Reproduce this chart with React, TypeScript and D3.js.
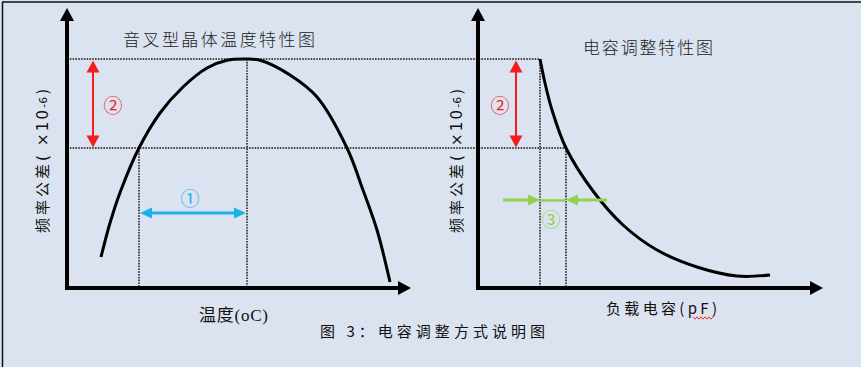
import React, { useRef, useEffect } from 'react';
import * as d3 from 'd3';

// left chart: tuning-fork crystal, frequency deviation (ppm) vs temperature (°C)
const tempC = [-48, -43.5, -38, -29, -18.5, -7, 5, 15, 25, 32, 46.5, 60, 75, 83, 90, 96.5];
const tempPpm = [-198, -164, -131, -89, -54, -28, -9, -1.2, 0, -1.5, -16, -38, -89, -131, -171, -223];

// right chart: frequency deviation (ppm) vs load capacitance (pF)
const loadPf = [6.2, 6.7, 7.4, 8.8, 11.5, 14.5, 17.9, 21.9, 25.9, 29.2];
const loadPpm = [0, -24, -51, -89, -132, -166, -191, -208, -217, -216];

const tolBand = [0, -89]; // ② allowed deviation
const tempRange = [-29, 25]; // ① temperature window
const pfRange = [6.2, 8.8]; // ③ capacitance window
const blueLevel = -154;
const greenLevel = -141;
const greenReach = [2.5, 12.9];
const redTemp = -52;
const redPf = 3.8;

const titles = ['音叉型晶体温度特性图', '电容调整特性图'];
const xLabels = ['温度(oC)', '负载电容(pF)'];
const yLabelCjk = '频率公差';
const yLabelMain = '( ×10';
const yLabelExp = '-6';
const caption = '图  3：电容调整方式说明图';
const marks = ['①', '②', '③'];

const RED = '#f21d1d';
const BLUE = '#1cb0ec';
const GREEN = '#92d050';
const CJK = '"Noto Sans CJK SC", "Noto Sans", sans-serif';

function arrow(g: any, x1: number, y1: number, x2: number, y2: number, color: string, w: number, len: number, half: number, both: boolean) {
  const dx = x2 - x1, dy = y2 - y1;
  const d = Math.hypot(dx, dy);
  const ux = dx / d, uy = dy / d;
  const px = -uy, py = ux;
  const head = (tx: number, ty: number, sx: number, sy: number) => {
    const bx = tx - sx * len, by = ty - sy * len;
    g.append('path')
      .attr('d', `M${tx},${ty}L${bx + px * half},${by + py * half}L${bx - px * half},${by - py * half}Z`)
      .attr('fill', color);
  };
  const sx = both ? x1 + ux * (len - 1) : x1;
  const sy = both ? y1 + uy * (len - 1) : y1;
  g.append('line')
    .attr('x1', sx).attr('y1', sy)
    .attr('x2', x2 - ux * (len - 1)).attr('y2', y2 - uy * (len - 1))
    .attr('stroke', color).attr('stroke-width', w);
  head(x2, y2, ux, uy);
  if (both) head(x1, y1, -ux, -uy);
}

export default function App() {
  const ref = useRef<SVGSVGElement>(null);

  useEffect(() => {
    if (!ref.current) return;
    const svg = d3.select(ref.current);
    svg.selectAll('*').remove();

    const xT = d3.scaleLinear().domain([-65, 105]).range([67, 407]);
    const xC = d3.scaleLinear().domain([0, 34.4]).range([478, 822]);
    const yP = d3.scaleLinear().domain([-229, 0]).range([288, 59]);

    svg.append('rect').attr('width', 861).attr('height', 367).attr('fill', '#dae3ef');
    svg.append('line').attr('x1', 2).attr('x2', 861).attr('y1', 2).attr('y2', 2).attr('stroke', '#111').attr('stroke-width', 1.5);
    svg.append('line').attr('x1', 2.5).attr('x2', 2.5).attr('y1', 2).attr('y2', 367).attr('stroke', '#111').attr('stroke-width', 1.5);

    const dots = svg.append('g')
      .attr('stroke', '#4a4a4a')
      .attr('stroke-width', 2)
      .attr('stroke-dasharray', '1.6,1.2')
      .attr('fill', 'none');

    // horizontal tolerance lines run across both charts
    dots.append('line').attr('x1', xT(-65)).attr('x2', xC(pfRange[0])).attr('y1', yP(tolBand[0])).attr('y2', yP(tolBand[0]));
    dots.append('line').attr('x1', xT(-65)).attr('x2', xC(pfRange[1])).attr('y1', yP(tolBand[1])).attr('y2', yP(tolBand[1]));
    dots.append('line').attr('x1', xT(tempRange[0])).attr('x2', xT(tempRange[0])).attr('y1', yP(tolBand[1])).attr('y2', yP(-229));
    dots.append('line').attr('x1', xT(tempRange[1])).attr('x2', xT(tempRange[1])).attr('y1', yP(tolBand[0])).attr('y2', yP(-229));
    dots.append('line').attr('x1', xC(pfRange[0])).attr('x2', xC(pfRange[0])).attr('y1', yP(tolBand[0])).attr('y2', yP(-229));
    dots.append('line').attr('x1', xC(pfRange[1])).attr('x2', xC(pfRange[1])).attr('y1', yP(tolBand[1])).attr('y2', yP(-229));

    // axes
    const ax = svg.append('g');
    arrow(ax, xT(-65), yP(-231), xT(-65), yP(51), '#000', 4, 13, 7, false);
    arrow(ax, xT(-66), yP(-229), xT(107), yP(-229), '#000', 4, 13, 7, false);
    arrow(ax, xC(0), yP(-231), xC(0), yP(51), '#000', 4, 13, 7, false);
    arrow(ax, xC(-0.1), yP(-229), xC(34.5), yP(-229), '#000', 4, 13, 7, false);

    // curves
    const lineT = d3.line<number>()
      .x((_, i) => xT(tempC[i]))
      .y((d) => yP(d))
      .curve(d3.curveCatmullRom.alpha(0.5));
    svg.append('path').attr('d', lineT(tempPpm)).attr('fill', 'none').attr('stroke', '#000').attr('stroke-width', 3);

    const lineC = d3.line<number>()
      .x((_, i) => xC(loadPf[i]))
      .y((d) => yP(d))
      .curve(d3.curveCatmullRom.alpha(0.5));
    svg.append('path').attr('d', lineC(loadPpm)).attr('fill', 'none').attr('stroke', '#000').attr('stroke-width', 3);

    // annotation arrows
    const ann = svg.append('g');
    arrow(ann, xT(redTemp), yP(tolBand[0]) + 1.5, xT(redTemp), yP(tolBand[1]) - 0.5, RED, 2, 12, 6.5, true);
    arrow(ann, xC(redPf), yP(tolBand[0]) + 1.5, xC(redPf), yP(tolBand[1]) - 0.5, RED, 2, 12, 6.5, true);
    arrow(ann, xT(tempRange[0]) + 1, yP(blueLevel), xT(tempRange[1]) - 1, yP(blueLevel), BLUE, 3, 12, 5.5, true);
    arrow(ann, xC(greenReach[0]), yP(greenLevel), xC(pfRange[0]), yP(greenLevel), GREEN, 3, 12, 5.5, false);
    arrow(ann, xC(greenReach[1]), yP(greenLevel), xC(pfRange[1]), yP(greenLevel), GREEN, 3, 12, 5.5, false);
    ann.append('line')
      .attr('x1', xC(pfRange[0])).attr('x2', xC(pfRange[1]))
      .attr('y1', yP(greenLevel) + 0.5).attr('y2', yP(greenLevel) + 0.5)
      .attr('stroke', GREEN).attr('stroke-width', 2.5);

    const txt = svg.append('g').attr('font-family', CJK);
    txt.append('text').text(marks[1]).attr('x', xT(redTemp) + 20).attr('y', yP(-47) + 7)
      .attr('text-anchor', 'middle').attr('font-size', 19).attr('fill', RED);
    txt.append('text').text(marks[1]).attr('x', xC(redPf) - 16).attr('y', yP(-47) + 7)
      .attr('text-anchor', 'middle').attr('font-size', 19).attr('fill', RED);
    txt.append('text').text(marks[0]).attr('x', xT(-3.5)).attr('y', yP(-140) + 7)
      .attr('text-anchor', 'middle').attr('font-size', 19).attr('fill', BLUE);
    txt.append('text').text(marks[2]).attr('x', xC(7.3)).attr('y', yP(-161) + 7)
      .attr('text-anchor', 'middle').attr('font-size', 19).attr('fill', GREEN);

    // titles
    txt.append('text').text(titles[0]).attr('x', 123).attr('y', 46)
      .attr('textLength', 192).attr('lengthAdjust', 'spacing')
      .attr('font-size', 17).attr('font-weight', 300).attr('fill', '#222');
    txt.append('text').text(titles[1]).attr('x', 583).attr('y', 54)
      .attr('textLength', 130).attr('lengthAdjust', 'spacing')
      .attr('font-size', 17).attr('font-weight', 300).attr('fill', '#222');

    // y labels
    [41.5, 456].forEach((cx) => {
      const t = txt.append('text')
        .attr('transform', `translate(${cx + 6},233) rotate(-90)`)
        .attr('font-size', 15).attr('fill', '#111');
      t.append('tspan').text(yLabelCjk).attr('letter-spacing', 3);
      t.append('tspan').text(yLabelMain).attr('letter-spacing', 2.2)
        .attr('font-family', '"DejaVu Sans", sans-serif').attr('font-size', 15);
      t.append('tspan').text(yLabelExp).attr('font-size', 11).attr('dy', -1)
        .attr('font-family', '"DejaVu Sans", sans-serif');
      t.append('tspan').text(')').attr('dy', 1).attr('dx', 2)
        .attr('font-family', '"DejaVu Sans", sans-serif');
    });

    // x labels
    txt.append('text').text(xLabels[0]).attr('x', 199).attr('y', 321)
      .attr('textLength', 69).attr('lengthAdjust', 'spacing')
      .attr('font-family', '"Liberation Serif", "Noto Sans CJK SC", serif')
      .attr('font-size', 17).attr('fill', '#111');
    txt.append('text').text(xLabels[1]).attr('x', 606).attr('y', 314)
      .attr('textLength', 111).attr('lengthAdjust', 'spacing')
      .attr('font-size', 15).attr('fill', '#111');
    const wave = d3.range(0, 21, 2).map((d, i) => [693 + d, 318 + (i % 2 ? 1.2 : -1.2)] as [number, number]);
    txt.append('path').attr('d', d3.line()(wave)).attr('fill', 'none').attr('stroke', RED).attr('stroke-width', 0.9);

    // caption
    txt.append('text').text(caption).attr('x', 320).attr('y', 337)
      .attr('textLength', 225).attr('lengthAdjust', 'spacing')
      .attr('font-size', 15).attr('fill', '#111');
  });

  return (
    <svg
      ref={ref}
      width={861}
      height={367}
      style={{ position: 'absolute', left: 0, top: 0 }}
    />
  );
}
